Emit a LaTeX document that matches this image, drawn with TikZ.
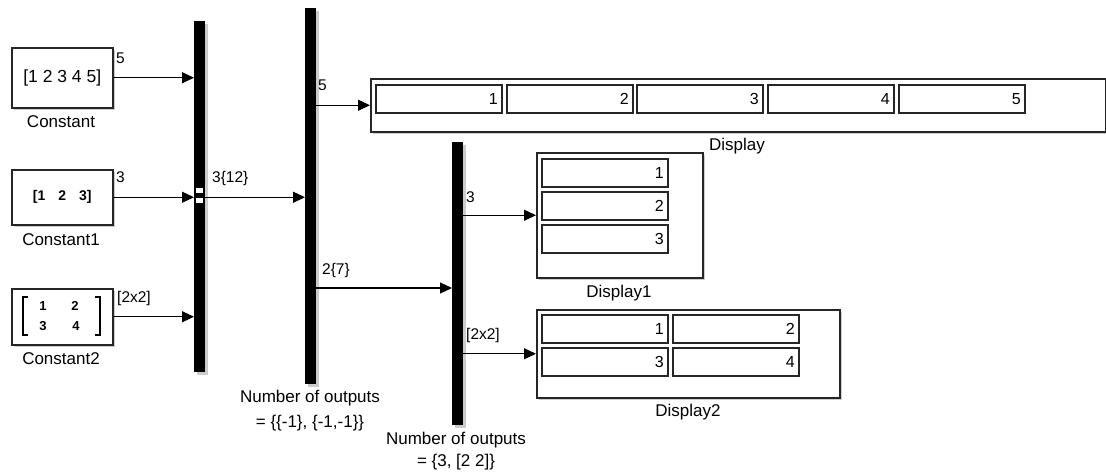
\documentclass[tikz,border=0pt]{standalone}
\usepackage{fontspec}
\setmainfont{Liberation Sans}
\usetikzlibrary{arrows.meta,shadows}
\begin{document}
\begin{tikzpicture}[x=1pt,y=-1pt,
  shd/.style={drop shadow={shadow xshift=2.5pt,shadow yshift=-2.5pt,fill=black!40,opacity=0.5}},
  blk/.style={draw=black!85,line width=1.5pt,fill=white,inner sep=0pt,anchor=north west,shd},
  bar/.style={fill=black,draw=none,inner sep=0pt,minimum width=11pt,anchor=north west,shd},
  cell/.style={draw=black!85,line width=1.5pt,fill=white,inner xsep=4pt,inner ysep=0pt,
    minimum height=28pt,text width=118pt,align=right,anchor=north west,font=\fontsize{16}{18}\selectfont},
  sig/.style={-{Triangle[length=12pt,width=11pt]},line width=1.2pt,black},
  lbl/.style={font=\fontsize{17}{19}\selectfont,inner sep=0pt},
  slbl/.style={font=\fontsize{15.5}{17}\selectfont,inner sep=0pt,anchor=west},
  ment/.style={font=\fontsize{13}{15}\selectfont\bfseries,inner sep=0pt},
  mk/.style={fill=white,draw=none,inner sep=0pt,minimum width=7pt,minimum height=4.5pt}
]
\useasboundingbox (0,0) rectangle (1106,472);

% constants
\node[blk,minimum width=101pt,minimum height=60pt] (c0) at (11,47) {\fontsize{17.5}{19}\selectfont [1 2 3 4 5]};
\node[blk,minimum width=101pt,minimum height=55pt] (c1) at (11,169) {\fontsize{14}{16}\selectfont\bfseries [1\hspace{13pt}2\hspace{13pt}3]};
\node[blk,minimum width=101pt,minimum height=56pt] (c2) at (11,288) {};
\draw[line width=1.4pt] (28,297) -- (23,297) -- (23,335) -- (28,335);
\draw[line width=1.4pt] (95,297) -- (100,297) -- (100,335) -- (95,335);
\node[ment] (m11) at (43,306) {1};
\node[ment] (m12) at (75,306) {2};
\node[ment] (m21) at (43,326) {3};
\node[ment] (m22) at (76,326) {4};

\node[lbl] (lc0) at (61,122) {Constant};
\node[lbl] (lc1) at (61,240) {Constant1};
\node[lbl] (lc2) at (61,359) {Constant2};

% bars
\node[bar,minimum height=351pt] (mux1) at (194,21) {};
\node[bar,minimum height=376pt] (mux2) at (305,8) {};
\node[bar,minimum height=283pt] (dmx) at (452,142) {};
\node[mk] (mk1) at (199.5,190.5) {};
\node[mk] (mk2) at (199.5,200.5) {};

% displays
\node[blk,minimum width=735pt,minimum height=53pt] (disp) at (370,78) {};
\node[cell] (d1) at (375,84) {1};
\node[cell] (d2) at (506,84) {2};
\node[cell] (d3) at (636,84) {3};
\node[cell] (d4) at (767,84) {4};
\node[cell] (d5) at (898,84) {5};
\node[lbl] (ld) at (737,146) {Display};

\node[blk,minimum width=166pt,minimum height=125pt] (disp1) at (536,152) {};
\node[cell] (e1) at (541,158) {1};
\node[cell] (e2) at (541,191) {2};
\node[cell] (e3) at (541,224) {3};
\node[lbl] (ld1) at (619,293) {Display1};

\node[blk,minimum width=303pt,minimum height=88pt] (disp2) at (536,309) {};
\node[cell] (f1) at (541,314) {1};
\node[cell] (f2) at (672,314) {2};
\node[cell] (f3) at (541,347) {3};
\node[cell] (f4) at (672,347) {4};
\node[lbl] (ld2) at (688,412) {Display2};

% bar labels
\node[lbl,align=center,font=\fontsize{17}{25}\selectfont] (lm2) at (310,410.5) {Number of outputs\\= \{\{-1\}, \{-1,-1\}\}};
\node[lbl,align=center,font=\fontsize{17}{22}\selectfont] (ldm) at (456,451) {Number of outputs\\= \{3, [2 2]\}};

% connectors
\coordinate (m2o2) at (316,288);
\draw[sig] (c0.east) -- (c0.east -| mux1.west);
\draw[sig] (c1.east) -- (c1.east -| mux1.west);
\draw[sig] (c2.east) -- (c2.east -| mux1.west);
\draw[sig] (c1.east -| mux1.east) -- (c1.east -| mux2.west);
\draw[sig] (disp.west -| mux2.east) -- (disp.west);
\draw[sig] (m2o2) -- (m2o2 -| dmx.west);
\draw[sig] (disp1.west -| dmx.east) -- (disp1.west);
\draw[sig] (disp2.west -| dmx.east) -- (disp2.west);

% signal labels
\node[slbl] (s1) at (116,58) {5};
\node[slbl] (s2) at (116,177) {3};
\node[slbl] (s3) at (117,298) {[2x2]};
\node[slbl] (s4) at (212,178) {3\{12\}};
\node[slbl] (s5) at (318,85) {5};
\node[slbl] (s6) at (322,270) {2\{7\}};
\node[slbl] (s7) at (466,197) {3};
\node[slbl] (s8) at (466,335) {[2x2]};
\end{tikzpicture}
\end{document}
